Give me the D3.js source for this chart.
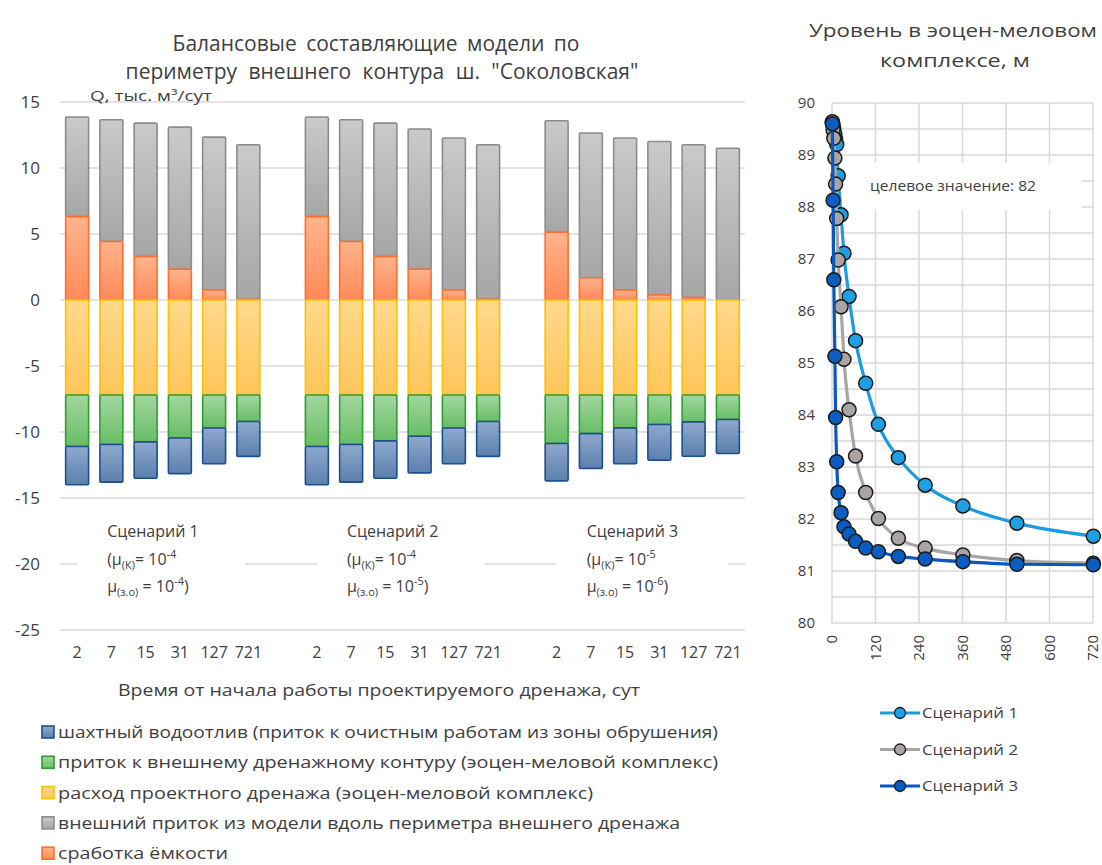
<!DOCTYPE html>
<html><head><meta charset="utf-8">
<script src="https://cdn.jsdelivr.net/npm/d3@7"></script>
<style>
body{margin:0;background:#fff}
svg{display:block}
text{font-family:"Open Sans","Noto Sans",sans-serif;fill:#404040}
</style>
</head><body>
<svg id="c" width="1102" height="865"></svg>
<script>
// ---------------- DATA ----------------
const times = ["2", "7", "15", "31", "127", "721"];
const scenarios = ["Сценарий 1", "Сценарий 2", "Сценарий 3"];
const muK = ["-4", "-4", "-5"];
const muZO = ["-4", "-5", "-6"];
const yTicksLeft = [-25, -20, -15, -10, -5, 0, 5, 10, 15];

// balance components, thousand m3/day (per scenario, per time)
const mineDrain = [   // шахтный водоотлив (negative)
  [-2.9, -2.85, -2.75, -2.7, -2.7, -2.65],
  [-2.9, -2.85, -2.83, -2.78, -2.7, -2.65],
  [-2.83, -2.65, -2.71, -2.71, -2.61, -2.58]];
const outerInflow = [ // приток к внешнему дренажному контуру (negative)
  [-3.9, -3.75, -3.55, -3.25, -2.5, -2.0],
  [-3.9, -3.75, -3.47, -3.12, -2.5, -2.0],
  [-3.67, -2.92, -2.49, -2.23, -2.03, -1.85]];
const drainFlow = [   // расход проектного дренажа (negative)
  [-7.2, -7.2, -7.2, -7.2, -7.2, -7.2],
  [-7.2, -7.2, -7.2, -7.2, -7.2, -7.2],
  [-7.2, -7.2, -7.2, -7.2, -7.2, -7.2]];
const extInflow = [   // внешний приток из модели
  [7.54, 9.23, 10.11, 10.77, 11.58, 11.71],
  [7.54, 9.23, 10.11, 10.62, 11.51, 11.71],
  [8.45, 10.96, 11.51, 11.63, 11.58, 11.48]];
const storage = [     // сработка ёмкости
  [6.32, 4.43, 3.29, 2.33, 0.76, 0.05],
  [6.32, 4.43, 3.29, 2.33, 0.76, 0.05],
  [5.13, 1.69, 0.76, 0.38, 0.18, 0.02]];

// level in the Eocene–Cretaceous complex, m
const levelTimes = [1, 3, 5, 8, 10, 13, 17, 25, 33, 47, 65, 93, 128, 183, 257, 361, 510, 721];
const level1 = [89.62, 89.58, 89.5, 89.4, 89.3, 89.2, 88.6, 87.85, 87.11, 86.28, 85.43, 84.61, 83.82, 83.18, 82.65, 82.25, 81.92, 81.67];
const level2 = [89.64, 89.48, 89.32, 88.94, 88.44, 87.78, 86.98, 86.08, 85.07, 84.1, 83.21, 82.51, 82.01, 81.63, 81.44, 81.31, 81.2, 81.15];
const level3 = [89.6, 88.13, 86.6, 85.13, 83.95, 83.1, 82.51, 82.12, 81.85, 81.71, 81.57, 81.44, 81.37, 81.28, 81.23, 81.18, 81.13, 81.12];
const xTicksRight = [0, 120, 240, 360, 480, 600, 720];
const yTicksRight = [80, 81, 82, 83, 84, 85, 86, 87, 88, 89, 90];
const targetLabel = "целевое значение: 82";

// legend labels
const legendLabels = {
  mine: "шахтный водоотлив (приток к очистным работам из зоны обрушения)",
  outer: "приток к внешнему дренажному контуру (эоцен-меловой комплекс)",
  drain: "расход проектного дренажа (эоцен-меловой комплекс)",
  ext: "внешний приток из модели вдоль периметра внешнего дренажа",
  storage: "сработка ёмкости"
};

// ---------------- STYLE ----------------
const seriesStyle = {
  drain:   {top: "#ffd98c", bot: "#ffc55a", stroke: "#ffc000"},
  outer:   {top: "#a3d6a0", bot: "#68bd66", stroke: "#2e9e33"},
  mine:    {top: "#8fa9cc", bot: "#5b7fae", stroke: "#1d4f8c"},
  storage: {top: "#ffb48e", bot: "#ff8a58", stroke: "#ff6f2a"},
  ext:     {top: "#cacaca", bot: "#a6a6a6", stroke: "#8c8c8c"}
};
const lineStyle = [
  {line: "#1d9be0", fill: "#1fa0e4"},
  {line: "#a6a6a6", fill: "#aaa5a3"},
  {line: "#0a57c0", fill: "#0b5dc2"}
];

const svg = d3.select("#c");
const defs = svg.append("defs");
Object.entries(seriesStyle).forEach(([k, s]) => {
  const g = defs.append("linearGradient").attr("id", "g-" + k)
    .attr("x1", 0).attr("y1", 0).attr("x2", 0).attr("y2", 1);
  g.append("stop").attr("offset", "0%").attr("stop-color", s.top);
  g.append("stop").attr("offset", "100%").attr("stop-color", s.bot);
});

function fit(sel, width) {
  sel.each(function () {
    const w = this.getComputedTextLength();
    if (Math.abs(w - width) / width > 0.015) {
      this.setAttribute("textLength", width);
      this.setAttribute("lengthAdjust", "spacingAndGlyphs");
    }
  });
  return sel;
}

// ---------------- LEFT CHART ----------------
const L = {x0: 60, x1: 745, yTop: 102, yBot: 630};
const rows = [];
const slots = [];
scenarios.forEach((s, si) => {
  times.forEach((t, ti) => {
    const key = si + "|" + ti;
    slots.push(key);
    rows.push({key, drain: drainFlow[si][ti], outer: outerInflow[si][ti], mine: mineDrain[si][ti],
      storage: storage[si][ti], ext: extInflow[si][ti]});
  });
  if (si < scenarios.length - 1) slots.push("gap" + si);
});
const x = d3.scaleBand().domain(slots).range([L.x0, L.x1]).paddingInner(0.33).paddingOuter(0.165);
const y = d3.scaleLinear().domain([-25, 15]).range([L.yBot, L.yTop]);

// grid
svg.append("g").selectAll("line").data(yTicksLeft).join("line")
  .attr("x1", L.x0).attr("x2", L.x1)
  .attr("y1", d => y(d)).attr("y2", d => y(d))
  .attr("stroke", "#d9d9d9").attr("stroke-width", 1.5);

// y tick labels
svg.append("g").selectAll("text").data(yTicksLeft).join("text")
  .attr("x", 40).attr("y", d => y(d)).attr("dy", "0.36em")
  .attr("text-anchor", "end").style("font-size", "17px").text(d => d);

// stacked bars
const keys = ["drain", "outer", "mine", "storage", "ext"];
const stack = d3.stack().keys(keys).offset(d3.stackOffsetDiverging).order(d3.stackOrderNone);
const layers = stack(rows);
const drawOrder = ["ext", "storage", "drain", "outer", "mine"];
drawOrder.forEach(k => {
  const layer = layers.find(l => l.key === k);
  svg.append("g").selectAll("rect").data(layer.filter(d => Math.abs(d[1] - d[0]) > 1e-9)).join("rect")
    .attr("x", d => x(d.data.key))
    .attr("width", x.bandwidth())
    .attr("y", d => y(Math.max(d[0], d[1])))
    .attr("height", d => Math.abs(y(d[0]) - y(d[1])))
    .attr("fill", "url(#g-" + k + ")")
    .attr("stroke", seriesStyle[k].stroke)
    .attr("stroke-width", 1.6)
    .attr("rx", 1);
});

// x tick labels
svg.append("g").selectAll("text").data(rows).join("text")
  .attr("x", d => x(d.key) + x.bandwidth() / 2).attr("y", 658)
  .attr("text-anchor", "middle").style("font-size", "16px")
  .text(d => times[+d.key.split("|")[1]]);

// scenario boxes
scenarios.forEach((s, si) => {
  const firstKey = si + "|0";
  const bx = x(firstKey) + x.bandwidth() / 2 + 16;
  const g = svg.append("g");
  g.append("rect").attr("x", bx - 16).attr("y", 506).attr("width", 168 + (si === 2 ? 4 : 0)).attr("height", 108).attr("fill", "#fff");
  g.append("text").attr("x", bx + 14).attr("y", 537).style("font-size", "16px").text(s);
  const t2 = g.append("text").attr("x", bx + 14).attr("y", 565).style("font-size", "16px");
  t2.append("tspan").text("(μ");
  t2.append("tspan").attr("dy", 4).style("font-size", "11px").text("(К)");
  t2.append("tspan").attr("dy", -4).text("= 10");
  t2.append("tspan").attr("dy", -7).style("font-size", "11px").text(muK[si]);
  const t3 = g.append("text").attr("x", bx + 14).attr("y", 592).style("font-size", "16px");
  t3.append("tspan").text("μ");
  t3.append("tspan").attr("dy", 4).style("font-size", "11px").text("(з.о)");
  t3.append("tspan").attr("dy", -4).text(" = 10");
  t3.append("tspan").attr("dy", -7).style("font-size", "11px").text(muZO[si]);
  t3.append("tspan").attr("dy", 7).text(")");
});

// titles
svg.append("text").attr("x", 376).attr("y", 51).attr("text-anchor", "middle")
  .style("font-size", "21px").style("word-spacing", "4px").text("Балансовые составляющие модели по");
svg.append("text").attr("x", 382).attr("y", 79).attr("text-anchor", "middle")
  .style("font-size", "21px").style("word-spacing", "6px").text("периметру внешнего контура ш. \"Соколовская\"");
fit(svg.append("text").attr("x", 90).attr("y", 101).style("font-size", "14px").text("Q, тыс. м³/сут"), 122);
fit(svg.append("text").attr("x", 379).attr("y", 696).attr("text-anchor", "middle")
  .style("font-size", "16px").text("Время от начала работы проектируемого дренажа, сут"), 522);

// left legend
const legendKeys = ["mine", "outer", "drain", "ext", "storage"];
const legendW = {mine: 660, outer: 660, drain: 535, ext: 622, storage: 170};
legendKeys.forEach((k, i) => {
  const cy = 732 + i * 30.3;
  svg.append("rect").attr("x", 42).attr("y", cy - 6).attr("width", 12).attr("height", 12)
    .attr("fill", "url(#g-" + k + ")").attr("stroke", seriesStyle[k].stroke).attr("stroke-width", 1.6);
  fit(svg.append("text").attr("x", 58).attr("y", cy).attr("dy", "0.36em")
    .style("font-size", "17px").text(legendLabels[k]), legendW[k]);
});

// ---------------- RIGHT CHART ----------------
const R = {x0: 832, x1: 1093, yTop: 103, yBot: 623};
const xr = d3.scaleLinear().domain([0, 720]).range([R.x0, R.x1]);
const yr = d3.scaleLinear().domain([80, 90]).range([R.yBot, R.yTop]);
const gr = svg.append("g");
gr.selectAll(".h").data(d3.range(80, 90.01, 0.5)).join("line")
  .attr("x1", R.x0).attr("x2", R.x1).attr("y1", d => yr(d)).attr("y2", d => yr(d))
  .attr("stroke", "#d9d9d9").attr("stroke-width", 1.5);
gr.selectAll(".v").data(xTicksRight).join("line")
  .attr("y1", R.yTop).attr("y2", R.yBot).attr("x1", d => xr(d)).attr("x2", d => xr(d))
  .attr("stroke", "#d9d9d9").attr("stroke-width", 1.5);
gr.selectAll(".yl").data(yTicksRight).join("text")
  .attr("x", 815).attr("y", d => yr(d)).attr("dy", "0.36em").attr("text-anchor", "end")
  .style("font-size", "15px").text(d => d);
gr.selectAll(".xl").data(xTicksRight).join("text")
  .attr("transform", d => `translate(${xr(d)},${R.yBot + 12}) rotate(-90)`)
  .attr("dy", "0.36em").attr("text-anchor", "end").style("font-size", "15px").text(d => d);

// target box
svg.append("rect").attr("x", 842).attr("y", 163).attr("width", 240).attr("height", 47).attr("fill", "#fff");
fit(svg.append("text").attr("x", 870).attr("y", 186).attr("dy", "0.36em").style("font-size", "15px").text(targetLabel), 166);

// lines
const levels = [level1, level2, level3];
const lineGen = d3.line().x(d => xr(d[0])).y(d => yr(d[1])).curve(d3.curveMonotoneX);
levels.forEach((lv, si) => {
  const pts = levelTimes.map((t, i) => [t, lv[i]]);
  const g = svg.append("g");
  g.append("path").attr("d", lineGen(pts)).attr("fill", "none")
    .attr("stroke", lineStyle[si].line).attr("stroke-width", 3.2);
  g.selectAll("circle").data(pts).join("circle")
    .attr("cx", d => xr(d[0])).attr("cy", d => yr(d[1])).attr("r", 7)
    .attr("fill", lineStyle[si].fill).attr("stroke", "#1a1a1a").attr("stroke-width", 1.5);
});

// right title
fit(svg.append("text").attr("x", 953).attr("y", 37).attr("text-anchor", "middle")
  .style("font-size", "18px").text("Уровень в эоцен-меловом"), 288);
fit(svg.append("text").attr("x", 955).attr("y", 67).attr("text-anchor", "middle")
  .style("font-size", "18px").text("комплексе, м"), 150);

// right legend
scenarios.forEach((s, si) => {
  const cy = 713 + si * 36.5;
  svg.append("line").attr("x1", 880).attr("x2", 920).attr("y1", cy).attr("y2", cy)
    .attr("stroke", lineStyle[si].line).attr("stroke-width", 3.2);
  svg.append("circle").attr("cx", 900).attr("cy", cy).attr("r", 5.5)
    .attr("fill", lineStyle[si].fill).attr("stroke", "#1a1a1a").attr("stroke-width", 1.3);
  fit(svg.append("text").attr("x", 922).attr("y", cy).attr("dy", "0.36em").style("font-size", "14px").text(s), 96);
});
</script>
</body></html>
